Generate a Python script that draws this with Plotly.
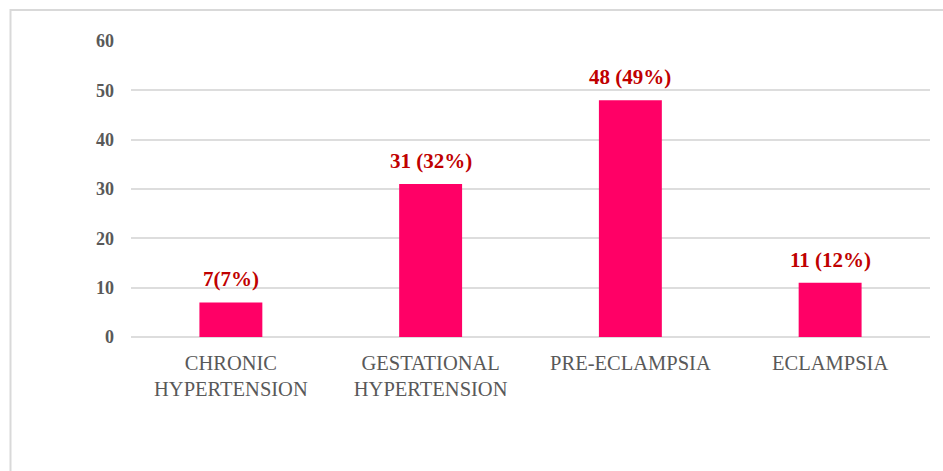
import plotly.graph_objects as go

categories = ["CHRONIC<br>HYPERTENSION", "GESTATIONAL<br>HYPERTENSION", "PRE-ECLAMPSIA", "ECLAMPSIA"]
values = [7, 31, 48, 11]
labels = ["7(7%)", "31 (32%)", "48 (49%)", "11 (12%)"]
y_ticks = [0, 10, 20, 30, 40, 50, 60]

W, H = 943, 471
L, R, T, B = 131, 13, 41, 134

fig = go.Figure()
fig.add_trace(go.Bar(
    x=categories, y=values,
    marker=dict(color="#FF0066", line=dict(width=0)),
    width=0.315,
    hoverinfo="skip",
))

for c, v, t in zip(categories, values, labels):
    fig.add_annotation(
        x=c, y=v, text=f"<b>{t}</b>", showarrow=False,
        yanchor="bottom", yshift=9,
        font=dict(family="Liberation Serif", size=21, color="#C00000"),
    )

pw = W - L - R
ph = H - T - B
fig.add_shape(
    type="rect", xref="paper", yref="paper",
    x0=(10.5 - L) / pw, x1=(W + 5 - L) / pw,
    y0=-(H + 5 - T - ph) / ph, y1=(H - 10 - B) / ph,
    line=dict(color="#D9D9D9", width=2), fillcolor="rgba(0,0,0,0)", layer="below",
)

fig.update_layout(
    width=W, height=H,
    margin=dict(l=L, r=R, t=T, b=B),
    paper_bgcolor="white", plot_bgcolor="white",
    showlegend=False,
    xaxis=dict(
        showgrid=False, showline=False, ticks="", ticklabelstandoff=11,
        tickfont=dict(family="Liberation Serif", size=20.5, color="#595959"),
    ),
    yaxis=dict(
        range=[0, 60], tickvals=y_ticks,
        ticktext=[f"<b>{v}</b>" for v in y_ticks],
        showgrid=True, gridcolor="#DDDDDD", gridwidth=1.5,
        zeroline=True, zerolinecolor="#DDDDDD", zerolinewidth=1.5,
        showline=False, ticks="", ticklabelstandoff=16,
        tickfont=dict(family="Liberation Serif", size=18, color="#595959"),
    ),
)

fig.write_html("out.html")
